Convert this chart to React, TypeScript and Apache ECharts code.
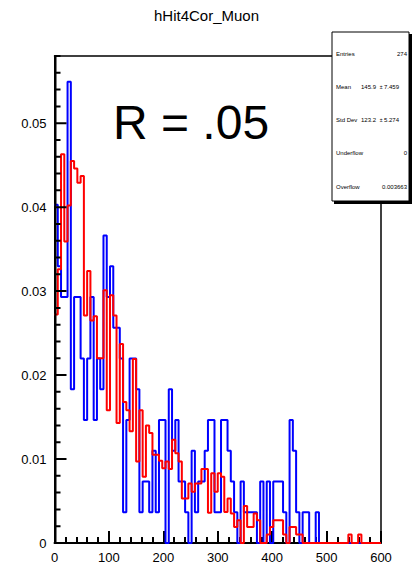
import React, { useEffect, useRef } from "react";
import * as echarts from "echarts";

// Histogram: 100 bins of width 6 from 0 to 600
const BIN_WIDTH = 6;
const X_MIN = 0;
const X_MAX = 600;

// Blue histogram: bin counts (normalised by 1/273)
const BLUE_NORM = 1 / 273;
const blueCounts = [
  11, 9, 8, 8, 15, 5, 8, 8, 6, 4,
  6, 8, 4, 6, 5, 10, 8, 9, 7, 7,
  6, 1, 4, 6, 6, 5, 1, 2, 2, 1,
  3, 1, 4, 4, 0, 5, 3, 4, 2, 2,
  1, 0, 3, 1, 2, 2, 3, 4, 4, 1,
  1, 4, 4, 3, 2, 1, 0, 2, 1, 1,
  1, 1, 0, 2, 0, 2, 0, 2, 2, 2,
  1, 0, 4, 3, 1, 0, 1, 1, 0, 0,
  1, 0, 0, 0, 0, 0, 0, 0, 0, 0,
  0, 0, 0, 0, 0, 0, 0, 0, 0, 0,
];

// Red histogram: normalised bin contents
const redValues = [
  0.0272, 0.0326, 0.0463, 0.0359, 0.0402, 0.0455, 0.0446, 0.0429, 0.0437, 0.0271,
  0.0324, 0.0265, 0.0270, 0.0220, 0.0220, 0.0301, 0.0158, 0.0295, 0.0271, 0.0143,
  0.0237, 0.0168, 0.0158, 0.0133, 0.0219, 0.0097, 0.0158, 0.0079, 0.0140, 0.0131,
  0.0105, 0.0105, 0.0098, 0.0089, 0.0097, 0.0088, 0.0123, 0.0107, 0.0097, 0.0053,
  0.0053, 0.0071, 0.0061, 0.0071, 0.0071, 0.0088, 0.0088, 0.0036, 0.0083, 0.0061,
  0.0083, 0.0079, 0.0037, 0.0053, 0.0035, 0.0019, 0.0027, 0.0, 0.0044, 0.0019,
  0.0019, 0.0035, 0.0027, 0.0, 0.0, 0.0010, 0.0019, 0.0027, 0.0027, 0.0027,
  0.0010, 0.0, 0.0019, 0.0019, 0.0010, 0.0010, 0.0, 0.0, 0.0, 0.0,
  0.0, 0.0, 0.0, 0.0, 0.0, 0.0, 0.0, 0.0, 0.0, 0.0,
  0.0010, 0.0, 0.0, 0.0010, 0.0, 0.0, 0.0, 0.0, 0.0, 0.0,
];

const Y_MAX = 0.058;
const Y_INTERVAL = 0.01;
const X_INTERVAL = 100;
const MINOR_SPLIT = 5;

const TITLE = "hHit4Cor_Muon";
const ANNOTATION = "R = .05";
const statsRows = [
  { label: "Entries", value: "274" },
  { label: "Mean", value: "145.9", err: "7.459" },
  { label: "Std Dev", value: "123.2", err: "5.274" },
  { label: "Underflow", value: "0" },
  { label: "Overflow", value: "0.003663" },
];

// frame layout (pixels)
const GRID_LEFT = 54.5;
const GRID_TOP = 56;
const GRID_RIGHT = 32;
const GRID_BOTTOM = 26;
const CHART_H = 569;

function toSteps(vals: number[]): number[][] {
  const pts = vals.map((v, i) => [X_MIN + i * BIN_WIDTH, v]);
  pts.push([X_MIN + vals.length * BIN_WIDTH, vals[vals.length - 1]]);
  return pts;
}

export default function App() {
  const ref = useRef<HTMLDivElement>(null);
  useEffect(() => {
    if (!ref.current) return;
    const chart = echarts.init(ref.current, undefined, { renderer: "svg" });
    const font = "'Liberation Sans', Arial, Helvetica, sans-serif";
    const statsGraphics: any[] = [];
    const rowY = [54, 87, 120, 153, 187];
    statsRows.forEach((r, i) => {
      statsGraphics.push({
        type: "text",
        x: 336,
        y: rowY[i],
        style: { text: r.label, fontSize: 6, fontFamily: font, fill: "#000", textVerticalAlign: "middle" },
        z: 20,
      });
      if (r.err) {
        statsGraphics.push({
          type: "text",
          x: 376,
          y: rowY[i],
          style: { text: r.value, fontSize: 6, fontFamily: font, fill: "#000", textAlign: "right", textVerticalAlign: "middle" },
          z: 20,
        });
        statsGraphics.push({
          type: "text",
          x: 381,
          y: rowY[i],
          style: { text: "\u00b1", fontSize: 5, fontFamily: font, fill: "#000", textAlign: "center", textVerticalAlign: "middle" },
          z: 20,
        });
        statsGraphics.push({
          type: "text",
          x: 399,
          y: rowY[i],
          style: { text: r.err, fontSize: 6, fontFamily: font, fill: "#000", textAlign: "right", textVerticalAlign: "middle" },
          z: 20,
        });
      } else {
        statsGraphics.push({
          type: "text",
          x: 407,
          y: rowY[i],
          style: { text: r.value, fontSize: 6, fontFamily: font, fill: "#000", textAlign: "right", textVerticalAlign: "middle" },
          z: 20,
        });
      }
    });

    // y-axis tick comb inside the frame, one polyline (value -> pixel via the frame's linear mapping)
    const plotBottom = CHART_H - GRID_BOTTOM;
    const plotH = plotBottom - GRID_TOP;
    const comb: number[][] = [[GRID_LEFT + 1, plotBottom]];
    for (let i = 1; (i * Y_INTERVAL) / MINOR_SPLIT <= Y_MAX + 1e-9; i++) {
      const v = (i * Y_INTERVAL) / MINOR_SPLIT;
      const py = plotBottom - (v / Y_MAX) * plotH;
      const len = i % MINOR_SPLIT === 0 ? 12 : 6;
      comb.push([GRID_LEFT + 1, py]);
      comb.push([GRID_LEFT + len, py]);
      comb.push([GRID_LEFT + 1, py]);
    }
    comb.push([GRID_LEFT + 1, GRID_TOP]);

    chart.setOption({
      animation: false,
      backgroundColor: "#fff",
      grid: {
        left: GRID_LEFT,
        right: GRID_RIGHT,
        top: GRID_TOP,
        bottom: GRID_BOTTOM,
        show: false,
      },
      xAxis: [
        {
          type: "value",
          min: X_MIN,
          max: X_MAX,
          interval: X_INTERVAL,
          axisLine: { show: true, onZero: false, lineStyle: { color: "#000", width: 2 } },
          axisTick: { show: true, inside: true, length: 12, lineStyle: { color: "#000", width: 2, opacity: 1 } },
          minorTick: { show: true, splitNumber: MINOR_SPLIT, length: 6, lineStyle: { color: "#000", width: 2, opacity: 1 } },
          axisLabel: { color: "#000", fontSize: 13, fontFamily: font, margin: 8 },
          splitLine: { show: false },
        },
        {
          type: "value",
          position: "top",
          min: X_MIN,
          max: X_MAX,
          interval: X_INTERVAL,
          axisLine: { show: true, onZero: false, lineStyle: { color: "#000", width: 1.5 } },
          axisTick: { show: false },
          minorTick: { show: false },
          axisLabel: { show: false },
          splitLine: { show: false },
        },
      ],
      yAxis: [
        {
          type: "value",
          min: 0,
          max: Y_MAX,
          interval: Y_INTERVAL,
          axisLine: { show: true, onZero: false, lineStyle: { color: "#000", width: 2 } },
          axisTick: { show: false },
          minorTick: { show: false },
          axisLabel: {
            color: "#000",
            fontSize: 13,
            fontFamily: font,
            margin: 8,
            showMaxLabel: false,
            formatter: (v: number) => {
              const k = Math.round(v / Y_INTERVAL);
              if (Math.abs(v - k * Y_INTERVAL) > 1e-6) return "";
              return k === 0 ? "0" : (k * Y_INTERVAL).toFixed(2);
            },
          },
          splitLine: { show: false },
        },
        {
          type: "value",
          position: "right",
          min: 0,
          max: Y_MAX,
          interval: Y_INTERVAL,
          axisLine: { show: true, onZero: false, lineStyle: { color: "#000", width: 1.5 } },
          axisTick: { show: false },
          minorTick: { show: false },
          axisLabel: { show: false },
          splitLine: { show: false },
        },
      ],
      series: [
        {
          name: "blue",
          type: "line",
          step: "end",
          symbol: "none",
          data: toSteps(blueCounts.map((c) => c * BLUE_NORM)),
          lineStyle: { color: "#0000ff", width: 2 },
          z: 3,
        },
        {
          name: "red",
          type: "line",
          step: "end",
          symbol: "none",
          data: toSteps(redValues),
          lineStyle: { color: "#ff0000", width: 2 },
          z: 4,
        },
      ],
      graphic: [
        {
          type: "text",
          x: 206.5,
          y: 15,
          style: { text: TITLE, fontSize: 15, fontFamily: font, fill: "#000", textAlign: "center", textVerticalAlign: "middle" },
        },
        {
          type: "text",
          x: 113,
          y: 122,
          style: { text: ANNOTATION, fontSize: 48, fontFamily: font, fill: "#000", textAlign: "left", textVerticalAlign: "middle" },
          z: 10,
        },
        {
          type: "polyline",
          shape: { points: comb },
          style: { stroke: "#000", lineWidth: 2, fill: null },
          z: 15,
          silent: true,
        },
        {
          type: "rect",
          shape: { x: 334, y: 34, width: 78, height: 170 },
          style: { fill: "#000" },
          z: 18,
        },
        {
          type: "rect",
          shape: { x: 332, y: 32, width: 77, height: 169 },
          style: { fill: "#fff", stroke: "#000", lineWidth: 1 },
          z: 19,
        },
        ...statsGraphics,
      ],
    });

    return () => chart.dispose();
  }, []);
  return (
    <div
      ref={ref}
      style={{ position: "fixed", left: 0, top: 0, width: 413, height: 569, background: "#fff" }}
    />
  );
}
